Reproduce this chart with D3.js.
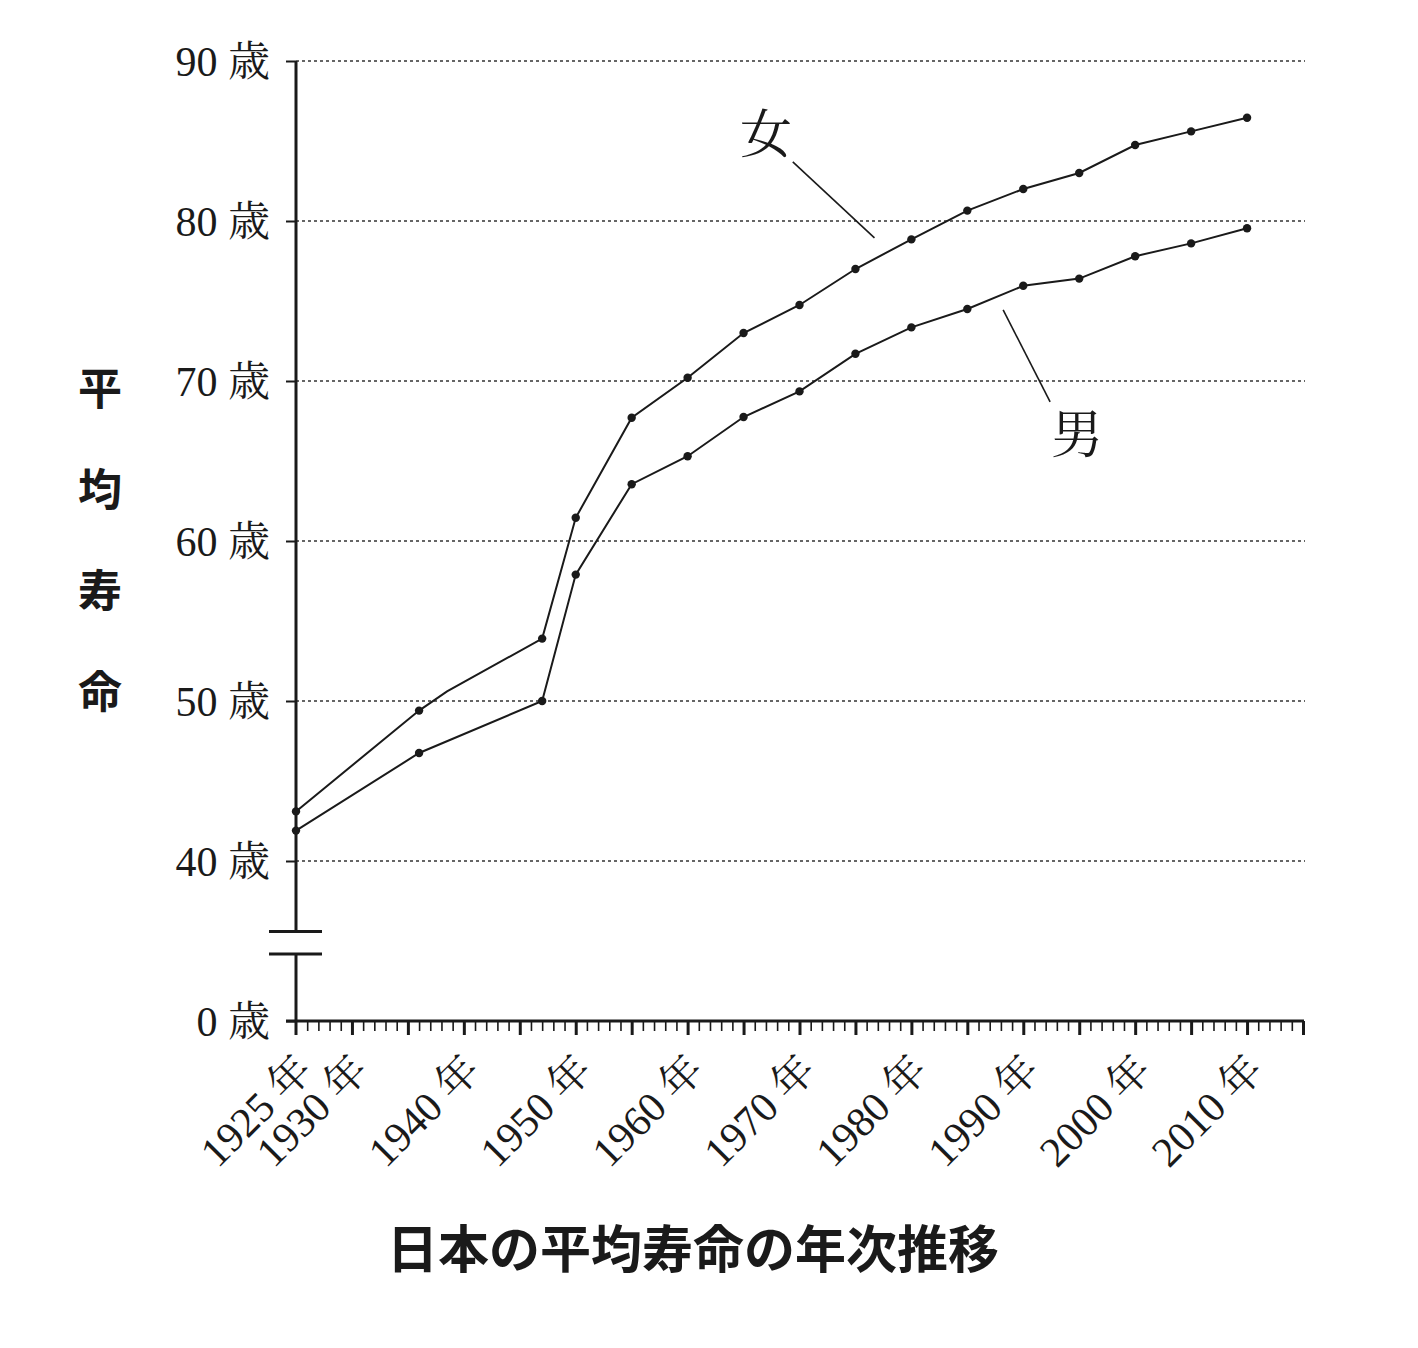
<!DOCTYPE html>
<html><head><meta charset="utf-8">
<script src="https://cdn.jsdelivr.net/npm/d3@7"></script>
<style>
html,body{margin:0;padding:0;background:#fff;}
svg{display:block;}
</style></head>
<body>
<script>
// ---- data ----
const years = [1925, 1936, 1947, 1950, 1955, 1960, 1965, 1970, 1975, 1980, 1985, 1990, 1995, 2000, 2005, 2010];
const femaleValues = [43.1, 49.4, 53.9, 61.45, 67.7, 70.2, 73.0, 74.75, 77.0, 78.85, 80.65, 82.0, 83.0, 84.75, 85.6, 86.45];
const maleValues   = [41.9, 46.75, 50.0, 57.9, 63.55, 65.3, 67.75, 69.35, 71.7, 73.35, 74.5, 75.95, 76.4, 77.8, 78.6, 79.55];
// undotted bend of the female line (between 1936 and 1947)
const femaleBendYear = 1938.5, femaleBendValue = 50.6;
const yTickValues = [0, 40, 50, 60, 70, 80, 90];
const gridValues = [40, 50, 60, 70, 80, 90];
const xLabelYears = [1925, 1930, 1940, 1950, 1960, 1970, 1980, 1990, 2000, 2010];
const yUnit = "歳", xUnit = "年";
const yTitle = ["平", "均", "寿", "命"];
const chartTitle = "日本の平均寿命の年次推移";
const femaleLabel = "女", maleLabel = "男";
// annotation anchors in data space [year, value]
const femaleLabelPos = [1967.0, 85.4], femaleLeader = [[1969.4, 83.7], [1976.7, 78.95]];
const maleLabelPos = [1994.8, 66.7], maleLeader = [[1988.2, 74.45], [1992.4, 68.7]];

// ---- drawing ----
const W = 1418, H = 1348;
const svg = d3.select("body").append("svg").attr("width", W).attr("height", H);
const ink = "#1a1a1a";
const serif = "'Liberation Serif','Noto Serif CJK JP','Noto Sans CJK JP',serif";
const sansCJK = "'Noto Sans CJK JP',sans-serif";

const x = d3.scaleLinear().domain([1925, 2015]).range([296, 1303]);
const y = d3.scaleLinear().domain([0, 40, 90]).range([1021, 861, 61]);

// gridlines
svg.append("g").selectAll("line").data(gridValues).join("line")
  .attr("x1", x(1925)).attr("x2", x(2015) + 2)
  .attr("y1", d => y(d)).attr("y2", d => y(d))
  .attr("stroke", "#333").attr("stroke-width", 1.4).attr("stroke-dasharray", "3,3");

// y axis ticks + labels
const yAxis = d3.axisLeft(y).tickValues(yTickValues).tickSize(10).tickPadding(16)
  .tickFormat(d => d + " " + yUnit);
const gy = svg.append("g").attr("transform", `translate(${x(1925)},0)`).call(yAxis);
gy.select(".domain").remove();
gy.selectAll(".tick line").attr("stroke", ink).attr("stroke-width", 2);
gy.selectAll(".tick text").attr("font-family", serif).attr("font-size", 42).attr("fill", ink)
  .attr("dy", "0.34em");

// y axis line with break
const breakTop = 931.5, breakBot = 954;
svg.append("line").attr("x1", x(1925)).attr("x2", x(1925)).attr("y1", y(90)).attr("y2", breakTop)
  .attr("stroke", ink).attr("stroke-width", 3);
svg.append("line").attr("x1", x(1925)).attr("x2", x(1925)).attr("y1", breakBot).attr("y2", 1035)
  .attr("stroke", ink).attr("stroke-width", 3);
[breakTop, breakBot].forEach(v => {
  svg.append("line").attr("x1", 269).attr("x2", 322).attr("y1", v).attr("y2", v)
    .attr("stroke", ink).attr("stroke-width", 3);
});

// x axis minor / major ticks
const minorYears = d3.range(1925, 2016);
const gxMinor = svg.append("g").attr("transform", `translate(0,${y(0)})`)
  .call(d3.axisBottom(x).tickValues(minorYears.filter(d => d % 5 !== 0)).tickSize(10).tickFormat(""));
gxMinor.select(".domain").remove();
gxMinor.selectAll(".tick line").attr("stroke", ink).attr("stroke-width", 1.6);
const gxMajor = svg.append("g").attr("transform", `translate(0,${y(0)})`)
  .call(d3.axisBottom(x).tickValues(minorYears.filter(d => d % 5 === 0 && d > 1925)).tickSize(14).tickFormat(""));
gxMajor.select(".domain").remove();
gxMajor.selectAll(".tick line").attr("stroke", ink).attr("stroke-width", 3);
svg.append("line").attr("x1", 286).attr("x2", x(2015) + 1).attr("y1", y(0)).attr("y2", y(0))
  .attr("stroke", ink).attr("stroke-width", 3);

// x labels rotated
svg.append("g").selectAll("text").data(xLabelYears).join("text")
  .attr("transform", d => `translate(${x(d) + 8},${1062}) rotate(-45)`)
  .attr("text-anchor", "end").attr("dy", "0.35em")
  .attr("font-family", serif).attr("font-size", 42).attr("fill", ink)
  .text(d => d + " " + xUnit);

// lines
const femalePts = years.map((d, i) => [d, femaleValues[i]]);
const femaleLinePts = femalePts.slice(0, 2).concat([[femaleBendYear, femaleBendValue]], femalePts.slice(2));
const malePts = years.map((d, i) => [d, maleValues[i]]);
const line = d3.line().x(d => x(d[0])).y(d => y(d[1]));
svg.append("path").attr("d", line(femaleLinePts)).attr("fill", "none").attr("stroke", ink).attr("stroke-width", 2);
svg.append("path").attr("d", line(malePts)).attr("fill", "none").attr("stroke", ink).attr("stroke-width", 2);
[femalePts, malePts].forEach(pts => {
  svg.append("g").selectAll("circle").data(pts).join("circle")
    .attr("cx", d => x(d[0])).attr("cy", d => y(d[1])).attr("r", 4.2).attr("fill", ink);
});

// annotations
[[femaleLabel, femaleLabelPos, femaleLeader], [maleLabel, maleLabelPos, maleLeader]].forEach(([t, p, l]) => {
  svg.append("text").attr("x", x(p[0])).attr("y", y(p[1])).attr("text-anchor", "middle")
    .attr("dy", "0.36em").attr("font-family", serif).attr("font-size", 52).attr("fill", ink).text(t);
  svg.append("line").attr("x1", x(l[0][0])).attr("y1", y(l[0][1])).attr("x2", x(l[1][0])).attr("y2", y(l[1][1]))
    .attr("stroke", ink).attr("stroke-width", 1.6);
});

// y title (vertical)
svg.append("g").selectAll("text").data(yTitle).join("text")
  .attr("x", 100).attr("y", (d, i) => 389 + i * 101).attr("dy", "0.36em")
  .attr("text-anchor", "middle").attr("font-family", sansCJK).attr("font-weight", "bold")
  .attr("font-size", 44).attr("fill", ink).text(d => d);

// title
svg.append("text").attr("x", 693).attr("y", 1250).attr("dy", "0.36em").attr("text-anchor", "middle")
  .attr("font-family", sansCJK).attr("font-weight", "bold").attr("font-size", 51).attr("fill", ink)
  .text(chartTitle);
</script>
</body></html>
